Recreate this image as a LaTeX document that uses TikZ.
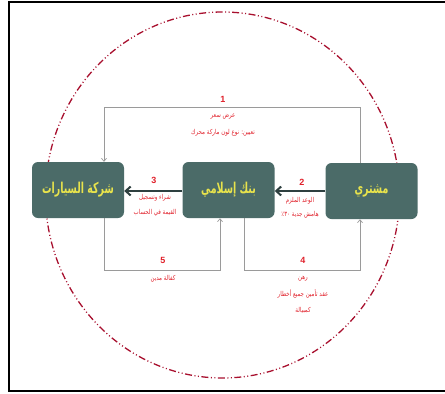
\documentclass[tikz,border=0pt]{standalone}
\usepackage{fontspec}
\usepackage{graphicx}
\setmainfont{Liberation Sans}
\newfontfamily\arabicfont[Script=Arabic]{DejaVu Sans}
\TeXXeTstate=1
\usetikzlibrary{arrows.meta}
\definecolor{boxfill}{HTML}{4B6B68}
\definecolor{boxtext}{HTML}{E8E34C}
\definecolor{redtxt}{HTML}{E0202A}
\definecolor{ringred}{HTML}{A8102E}
\definecolor{thickarr}{HTML}{2E4040}
\definecolor{thinarr}{HTML}{9A9A9A}
\newcommand{\boxlabel}[1]{\scalebox{0.63}[1]{\arabicfont\bfseries\fontsize{15}{17}\selectfont\beginR #1\endR}}
\newcommand{\redlabel}[1]{\scalebox{0.8}[1]{\arabicfont\fontsize{6.8}{8}\selectfont\beginR #1\endR}}
\tikzset{
  partybox/.style={draw=none, fill=boxfill, rounded corners=6pt, minimum width=92pt, minimum height=56pt, text=boxtext, inner sep=0pt},
  numlabel/.style={text=redtxt, font=\bfseries\fontsize{9}{10}\selectfont, inner sep=0pt},
  smalltxt/.style={text=redtxt, inner sep=0pt, align=center},
  thickflow/.style={draw=thickarr, line width=2pt, -{Straight Barb[length=5pt,width=9pt,line width=2pt]}},
  thinflow/.style={draw=thinarr, line width=0.7pt, -{Straight Barb[length=3pt,width=5pt]}},
  ring/.style={draw=ringred, line width=1.3pt, dash pattern=on 7pt off 2.5pt on 1pt off 2.5pt on 1pt off 2.5pt}
}
\begin{document}
\begin{tikzpicture}[x=1pt,y=-1pt]
\useasboundingbox (0,0) rectangle (445,394);
% frame
\draw[line width=2pt, black] (9,2) rectangle (446,391);
% ring
\draw[ring] (222.5,195) ellipse [x radius=177, y radius=183];
% boxes
\node[partybox] (car) at (78,190) {\boxlabel{شركة السيارات}};
\node[partybox] (bank) at (228.5,190) {\boxlabel{بنك إسلامي}};
\node[partybox] (buyer) at (371.5,191) {\boxlabel{مشتري}};
% thick arrows
\draw[thickflow] (buyer.west |- 0,191) -- (bank.east |- 0,191);
\draw[thickflow] (bank.west |- 0,191) -- (car.east |- 0,191);
% connector 1
\coordinate (c1a) at (360,107);
\coordinate (c1b) at (104,107);
\draw[thinflow] ([xshift=-11.5pt]buyer.north) |- (c1a) -- (c1b) -- ([xshift=26pt]car.north);
% connector 5
\coordinate (c5a) at (104,270);
\coordinate (c5b) at (220,270);
\draw[thinflow] ([xshift=26pt]car.south) -- (c5a) -- (c5b) -- ([xshift=-8.5pt]bank.south);
% connector 4
\coordinate (c4a) at (244,270);
\coordinate (c4b) at (360,270);
\draw[thinflow] ([xshift=15.5pt]bank.south) -- (c4a) -- (c4b) -- ([xshift=-11.5pt]buyer.south);
% labels
\node[numlabel] (n1) at (223,99) {1};
\node[smalltxt] (t1a) at (223,117) {\redlabel{عرض سعر}};
\node[smalltxt] (t1b) at (223,133) {\redlabel{تعيين: نوع لون ماركة محرك}};
\node[numlabel] (n2) at (302,182) {2};
\node[smalltxt] (t2a) at (300,201) {\redlabel{الوعد الملزم}};
\node[smalltxt] (t2b) at (300,215) {\redlabel{هامش جدية \beginL٣٠٪\endL}};
\node[numlabel] (n3) at (154,180) {3};
\node[smalltxt] (t3a) at (155,198) {\redlabel{شراء وتسجيل}};
\node[smalltxt] (t3b) at (155,213) {\redlabel{القيمة في الحساب}};
\node[numlabel] (n5) at (163,260) {5};
\node[smalltxt] (t5) at (163,279) {\redlabel{كفالة مدين}};
\node[numlabel] (n4) at (303,260) {4};
\node[smalltxt] (t4a) at (303,279) {\redlabel{رهن}};
\node[smalltxt] (t4b) at (303,294) {\redlabel{عقد تأمين جميع أخطار}};
\node[smalltxt] (t4c) at (303,310) {\redlabel{كمبيالة}};
\end{tikzpicture}
\end{document}
